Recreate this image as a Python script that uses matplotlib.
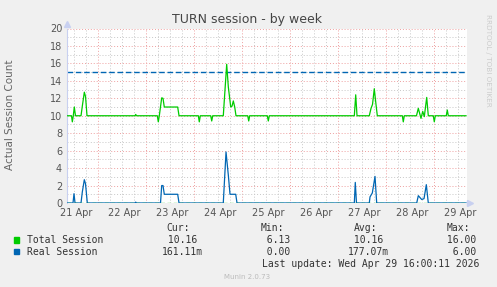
import numpy as np
import matplotlib
matplotlib.use("Agg")
import matplotlib.pyplot as plt

# time axis in days, 1.0 == 22 Apr 00:00 (first red grid line)
total_t = [0.354, 0.448, 0.465, 0.485, 0.506, 0.531, 0.646, 0.673, 0.715, 0.740, 0.771,
           1.771, 1.785, 1.802,
           2.235, 2.256, 2.277, 2.327, 2.354, 2.381, 2.660, 2.688,
           3.090, 3.110, 3.131, 3.348, 3.369, 3.390,
           3.610, 3.681, 3.715, 3.765, 3.792, 3.819, 3.848, 3.875,
           4.119, 4.140, 4.160, 4.527, 4.548, 4.569,
           6.340, 6.369, 6.396, 6.652, 6.688, 6.719, 6.756, 6.785, 6.819,
           7.340, 7.360, 7.381, 7.635, 7.673, 7.729, 7.765, 7.798, 7.848, 7.881,
           7.985, 8.006, 8.027, 8.256, 8.277, 8.298, 8.667]
total_v = [10, 10, 9.3, 10, 11.0, 10, 10, 11.1, 12.7, 12.2, 10,
           10, 10.15, 10,
           10, 9.3, 10, 12.05, 12.0, 11.0, 11.0, 10,
           10, 9.3, 10, 10, 9.4, 10,
           10, 15.9, 13.3, 11.0, 11.1, 11.7, 11.0, 10,
           10, 9.4, 10, 10, 9.4, 10,
           10, 12.4, 10, 10, 10.85, 11.3, 13.1, 11.6, 10,
           10, 9.3, 10, 10, 10.85, 9.7, 10.5, 9.9, 12.1, 10,
           10, 9.3, 10, 10, 10.66, 10, 10]

real_t = [0.354, 0.479, 0.500, 0.521, 0.646, 0.673, 0.715, 0.740, 0.777,
          1.771, 1.785, 1.802,
          2.302, 2.327, 2.354, 2.381, 2.660, 2.688,
          3.610, 3.667, 3.715, 3.750, 3.869, 3.896,
          6.340, 6.360, 6.385,
          6.652, 6.667, 6.715, 6.771, 6.806,
          7.640, 7.673, 7.744, 7.792, 7.840, 7.881, 8.667]
real_v = [0, 0, 1.07, 0, 0, 1.26, 2.67, 2.2, 0,
          0, 0.1, 0,
          0, 2.0, 2.0, 1.0, 1.0, 0,
          0, 5.85, 3.2, 1.0, 1.0, 0,
          0, 2.36, 0,
          0, 0.7, 1.15, 3.05, 0,
          0, 0.84, 0.4, 0.5, 2.1, 0, 0]

warn_level = 15
day_labels = ['21 Apr', '22 Apr', '23 Apr', '24 Apr', '25 Apr',
              '26 Apr', '27 Apr', '28 Apr', '29 Apr']
y_ticks = [0, 2, 4, 6, 8, 10, 12, 14, 16, 18, 20]

series_names = ['Total Session', 'Real Session']
series_colors = ['#00cc00', '#0066b3']
cur_vals = [10.16, 0.16111]
min_vals = [6.13, 0.0]
avg_vals = [10.16, 0.17707]
max_vals = [16.00, 6.00]


def fmt(v):
    # rrdtool style "%6.2lf%s"
    if v != 0 and abs(v) < 1:
        return "%6.2fm" % (v * 1000)
    return "%6.2f " % v


W, H = 497, 287
fig = plt.figure(figsize=(W / 100, H / 100), dpi=100)
fig.patch.set_facecolor('#f0f0f0')

x0, x1 = 0.354, 8.6875
ax = fig.add_axes([67 / W, 1 - 203 / H, 400 / W, 174.5 / H])
ax.set_facecolor('white')
ax.set_xlim(x0, x1)
ax.set_ylim(0, 20)

# grid: grey every 6 h / 1 unit, red every day / 2 units
for xv in np.arange(0.5, x1, 0.25):
    if xv > x0:
        red = abs(xv - round(xv)) < 1e-6
        ax.axvline(xv, color='#eea0a0' if red else '#c8c8c8', lw=0.7,
                   ls=(0, (1, 2)), zorder=1)
for yv in range(1, 21):
    ax.axhline(yv, color='#eea0a0' if yv % 2 == 0 else '#c8c8c8', lw=0.7,
               ls=(0, (1, 2)), zorder=1)

ax.axhline(warn_level, color='#0066b3', lw=1.0, ls=(0, (4, 2)), zorder=2)

ax.plot(total_t, total_v, color=series_colors[0], lw=0.9, zorder=3)
ax.plot(real_t, real_v, color=series_colors[1], lw=0.9, zorder=3)
ax.plot([x0, x1], [0, 0], color=series_colors[0], lw=0.9, ls=(0, (3, 2)), zorder=4)

for s in ['top', 'right', 'bottom']:
    ax.spines[s].set_visible(False)
ax.spines['left'].set_color('#c8d0f0')
ax.spines['left'].set_linewidth(0.8)
ax.plot([x0], [20.5], marker='^', color='#c8d0f0', ms=5, clip_on=False)
ax.plot([x1 + 0.06], [0], marker='>', color='#c8d0f0', ms=5, clip_on=False)

ax.set_xticks([0.542 + i for i in range(len(day_labels))])
ax.set_xticklabels(day_labels)
ax.set_yticks(y_ticks)
ax.tick_params(length=0, labelsize=7, colors='#555555', pad=3.5)

fig.text(247 / W, 1 - 19 / H, 'TURN session - by week', ha='center', va='center',
         fontsize=9, color='#444444')
fig.text(10 / W, 1 - 115 / H, 'Actual Session Count', rotation=90, ha='center',
         va='center', fontsize=7.5, color='#666666')
fig.text(488 / W, 1 - 60 / H, 'RRDTOOL / TOBI OETIKER', rotation=270, ha='center',
         va='center', fontsize=5.2, color='#cccccc')

mono = dict(family='DejaVu Sans Mono', fontsize=7, color='#333333', va='center')
fig.text(166.7 / W, 1 - 228.3 / H, 'Cur:', **mono)
fig.text(261 / W, 1 - 228.3 / H, 'Min:', **mono)
fig.text(354.3 / W, 1 - 228.3 / H, 'Avg:', **mono)
fig.text(447 / W, 1 - 228.3 / H, 'Max:', **mono)
for i, name in enumerate(series_names):
    yy = 1 - (240 + 11.7 * i) / H
    fig.patches.append(plt.Rectangle((14 / W, yy - 2.7 / H), 5.3 / W, 5.3 / H,
                                     transform=fig.transFigure, color=series_colors[i]))
    fig.text(26.7 / W, yy, name, **mono)
    fig.text(161.7 / W, yy, fmt(cur_vals[i]), **mono)
    fig.text(254.9 / W, yy, fmt(min_vals[i]), **mono)
    fig.text(348.3 / W, yy, fmt(avg_vals[i]), **mono)
    fig.text(440.9 / W, yy, fmt(max_vals[i]), **mono)
fig.text(261.7 / W, 1 - 264 / H, 'Last update: Wed Apr 29 16:00:11 2026', **mono)
fig.text(247.5 / W, 1 - 276.7 / H, 'Munin 2.0.73', ha='center', va='center',
         fontsize=5, color='#bbbbbb')

fig.savefig('out.png', dpi=100, facecolor=fig.get_facecolor())
